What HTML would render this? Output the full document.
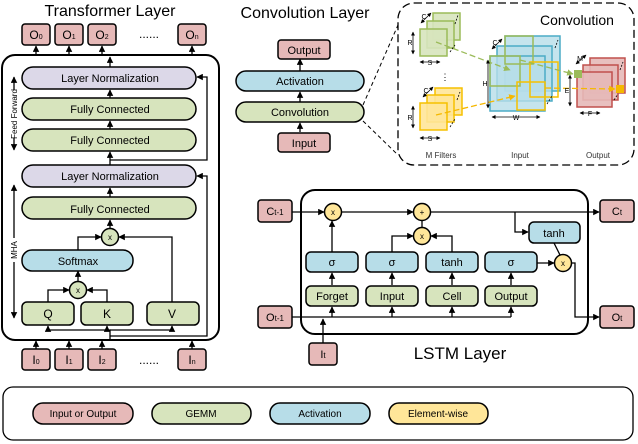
<!DOCTYPE html>
<html><head><meta charset="utf-8"><style>
html,body{margin:0;padding:0;background:#fff}
svg{display:block;font-family:"Liberation Sans",sans-serif}
</style></head><body>
<svg width="638" height="444" viewBox="0 0 638 444" xmlns="http://www.w3.org/2000/svg">
<defs>
<marker id="a" viewBox="0 0 10 10" refX="9" refY="5" markerWidth="5" markerHeight="5" orient="auto-start-reverse"><path d="M0,0L10,5L0,10z" fill="#000"/></marker>
<marker id="g" viewBox="0 0 10 10" refX="9" refY="5" markerWidth="5" markerHeight="5" orient="auto"><path d="M0,0L10,5L0,10z" fill="#9bbb59"/></marker>
<marker id="y" viewBox="0 0 10 10" refX="9" refY="5" markerWidth="5" markerHeight="5" orient="auto"><path d="M0,0L10,5L0,10z" fill="#f5b800"/></marker>
</defs>
<g font-size="11" text-anchor="middle" stroke-width="1.5">
<!-- Transformer -->
<text x="110" y="16" font-size="16" stroke="none">Transformer Layer</text>
<g fill="#e6b9b8" stroke="#000">
<rect x="22" y="24" width="28" height="21" rx="3"/><rect x="55" y="24" width="28" height="21" rx="3"/><rect x="88" y="24" width="28" height="21" rx="3"/><rect x="178" y="24" width="28" height="21" rx="3"/>
<rect x="22" y="349" width="28" height="21" rx="3"/><rect x="55" y="349" width="28" height="21" rx="3"/><rect x="88" y="349" width="28" height="21" rx="3"/><rect x="178" y="349" width="28" height="21" rx="3"/>
</g>
<g stroke="none" font-size="12"><text x="36" y="39">O<tspan font-size="7">0</tspan></text><text x="69" y="39">O<tspan font-size="7">1</tspan></text><text x="102" y="39">O<tspan font-size="7">2</tspan></text><text x="149" y="38">......</text><text x="192" y="39">O<tspan font-size="7">n</tspan></text>
<text x="36" y="364">I<tspan font-size="7">0</tspan></text><text x="69" y="364">I<tspan font-size="7">1</tspan></text><text x="102" y="364">I<tspan font-size="7">2</tspan></text><text x="149" y="364">......</text><text x="192" y="364">I<tspan font-size="7">n</tspan></text></g>
<rect x="2" y="55" width="217" height="285" rx="13" fill="none" stroke="#000" stroke-width="2"/>
<g stroke="#000" fill="none" marker-end="url(#a)" stroke-width="1.3">
<line x1="36" y1="55" x2="36" y2="46"/><line x1="69" y1="55" x2="69" y2="46"/><line x1="102" y1="55" x2="102" y2="46"/><line x1="192" y1="55" x2="192" y2="46"/>
<line x1="110" y1="67" x2="110" y2="57"/>
<line x1="36" y1="349" x2="36" y2="341"/><line x1="69" y1="349" x2="69" y2="341"/><line x1="102" y1="349" x2="102" y2="341"/><line x1="192" y1="349" x2="192" y2="341"/>
<line x1="110" y1="98" x2="110" y2="90"/><line x1="110" y1="129" x2="110" y2="121"/><line x1="110" y1="165" x2="110" y2="152"/><line x1="110" y1="197" x2="110" y2="188"/><line x1="110" y1="229" x2="110" y2="220"/>
<polyline points="110,160 207,160 207,77 197,77"/>
<polyline points="110,336 207,336 207,176 197,176"/>
<polyline points="78,250 78,237 101,237"/>
<polyline points="172,302 172,237 119,237"/>
<line x1="78" y1="282" x2="78" y2="271"/>
<polyline points="48,302 48,290 69,290"/><polyline points="107,302 107,290 87,290"/>
<polyline points="110,340 110,330 48,330 48,326"/><polyline points="110,330 172,330 172,326"/>
<line x1="107" y1="330" x2="107" y2="326"/>
<line x1="14" y1="90" x2="14" y2="77"/><line x1="14" y1="138" x2="14" y2="150"/>
<line x1="14" y1="238" x2="14" y2="185"/><line x1="14" y1="262" x2="14" y2="318"/>
</g>
<text transform="translate(17,114) rotate(-90)" font-size="8" stroke="none">Feed Forward</text>
<text transform="translate(17,250) rotate(-90)" font-size="8" stroke="none">MHA</text>
<g stroke="#000">
<rect x="22" y="67" width="174" height="22" rx="11" fill="#dcd8e8"/><rect x="22" y="98" width="174" height="22" rx="11" fill="#d7e4bd"/><rect x="22" y="129" width="174" height="22" rx="11" fill="#d7e4bd"/>
<rect x="22" y="165" width="174" height="22" rx="11" fill="#dcd8e8"/><rect x="22" y="197" width="174" height="22" rx="11" fill="#d7e4bd"/>
<rect x="22" y="250" width="111" height="21" rx="10" fill="#b7dde8"/>
<rect x="22" y="302" width="52" height="23" rx="5" fill="#d7e4bd"/><rect x="81" y="302" width="52" height="23" rx="5" fill="#d7e4bd"/><rect x="147" y="302" width="52" height="23" rx="5" fill="#d7e4bd"/>
<circle cx="110" cy="237" r="8.5" fill="#d7e4bd"/><circle cx="78" cy="290" r="8.5" fill="#d7e4bd"/>
</g>
<g stroke="none"><text x="110" y="82">Layer Normalization</text><text x="110" y="113">Fully Connected</text><text x="110" y="144">Fully Connected</text><text x="110" y="180">Layer Normalization</text><text x="110" y="213">Fully Connected</text><text x="78" y="265">Softmax</text>
<text x="48" y="318" font-size="12">Q</text><text x="107" y="318" font-size="12">K</text><text x="172" y="318" font-size="12">V</text><text x="110" y="240" font-size="8">x</text><text x="78" y="293" font-size="8">x</text></g>

<!-- Convolution layer -->
<text x="305" y="18" font-size="16" stroke="none">Convolution Layer</text>
<g stroke="#000" marker-end="url(#a)" stroke-width="1.3"><line x1="300" y1="71" x2="300" y2="59"/><line x1="300" y1="102" x2="300" y2="92"/><line x1="300" y1="132" x2="300" y2="123"/></g>
<g stroke="#000"><rect x="278" y="40" width="52" height="19" rx="3" fill="#e6b9b8"/><rect x="236" y="71" width="128" height="20" rx="10" fill="#b7dde8"/><rect x="236" y="102" width="128" height="20" rx="10" fill="#d7e4bd"/><rect x="278" y="133" width="52" height="19" rx="3" fill="#e6b9b8"/></g>
<g stroke="none"><text x="304" y="54">Output</text><text x="300" y="85">Activation</text><text x="300" y="116">Convolution</text><text x="304" y="147">Input</text></g>
<g stroke="#000" stroke-dasharray="4,3" fill="none" stroke-width="1"><line x1="363" y1="105" x2="398" y2="25"/><line x1="363" y1="121" x2="398" y2="155"/>
<rect x="398" y="3" width="236" height="162" rx="16" stroke-dasharray="8,4" stroke-width="1.3"/></g>
<text x="577" y="25" font-size="14" stroke="none">Convolution</text>
<g stroke="#9bbb59" fill="#d7e4bd" fill-opacity="0.9"><rect x="433" y="13" width="27" height="27"/><rect x="427" y="21" width="27" height="27"/><rect x="420" y="29" width="27" height="27"/></g>
<g stroke="#f5c000" fill="#ffe699" fill-opacity="0.9"><rect x="435" y="88" width="27" height="27"/><rect x="427" y="95" width="27" height="27"/><rect x="420" y="103" width="27" height="27"/></g>
<g stroke="#4bacc6" fill="#b7dde8" fill-opacity="0.8"><rect x="505" y="36" width="55" height="55"/><rect x="497" y="46" width="55" height="55"/><rect x="490" y="56" width="55" height="55"/></g>
<g fill="none" stroke="#9bbb59" stroke-width="1.5"><rect x="505" y="36" width="28" height="28"/><rect x="490" y="56" width="30" height="30"/></g>
<g fill="none" stroke="#f5c000" stroke-width="1.5"><rect x="530" y="62" width="28" height="35"/><rect x="517" y="82" width="28" height="28"/></g>
<g stroke="#c0504d" fill="#e6b9b8" fill-opacity="0.9"><rect x="590" y="58" width="35" height="35"/><rect x="583" y="65" width="35" height="35"/><rect x="577" y="72" width="35" height="35"/></g>
<rect x="574" y="70" width="8" height="8" fill="#9bbb59" stroke="none"/><rect x="616" y="85" width="8" height="8" fill="#f5b800" stroke="none"/>
<g stroke="#9bbb59" stroke-dasharray="6,3" stroke-width="1.3"><line x1="436" y1="42" x2="510" y2="70" marker-end="url(#g)"/><line x1="520" y1="60" x2="573" y2="74" marker-end="url(#g)"/></g>
<g stroke="#f5b800" stroke-dasharray="6,3" stroke-width="1.3"><line x1="436" y1="115" x2="515" y2="96" marker-end="url(#y)"/><line x1="545" y1="88" x2="615" y2="89" marker-end="url(#y)"/></g>
<g stroke="#000" stroke-width="0.8" marker-end="url(#a)" marker-start="url(#a)"><line x1="420" y1="62" x2="440" y2="62"/><line x1="413" y1="32" x2="413" y2="54"/><line x1="420" y1="138" x2="440" y2="138"/><line x1="413" y1="106" x2="413" y2="128"/><line x1="488" y1="60" x2="488" y2="108"/><line x1="492" y1="117" x2="540" y2="117"/><line x1="570" y1="75" x2="570" y2="106"/><line x1="580" y1="113" x2="600" y2="113"/>
<line x1="421" y1="23" x2="431" y2="13"/><line x1="423" y1="97" x2="433" y2="87"/><line x1="492" y1="49" x2="502" y2="39"/><line x1="576" y1="64" x2="586" y2="55"/></g>
<g stroke="#000" stroke-width="0.8" stroke-dasharray="2,1.5"><line x1="455" y1="24" x2="458" y2="15"/><line x1="450" y1="52" x2="455" y2="45"/><line x1="457" y1="100" x2="460" y2="92"/><line x1="450" y1="127" x2="455" y2="119"/><line x1="555" y1="48" x2="558" y2="40"/><line x1="547" y1="104" x2="552" y2="96"/><line x1="620" y1="70" x2="623" y2="62"/><line x1="614" y1="100" x2="618" y2="94"/></g>
<g stroke="none" font-size="7"><text x="430" y="65">S</text><text x="410" y="45">R</text><text x="430" y="141">S</text><text x="410" y="120">R</text><text x="485" y="86">H</text><text x="516" y="120">W</text><text x="567" y="93">E</text><text x="590" y="116">F</text><text x="424" y="19">C</text><text x="426" y="93">C</text><text x="495" y="45">C</text><text x="580" y="61">M</text><text x="445" y="80" font-size="9">⋮</text></g>
<g stroke="none" font-size="8" fill="#333"><text x="441" y="158">M Filters</text><text x="520" y="158">Input</text><text x="598" y="158">Output</text></g>

<!-- LSTM -->
<rect x="301" y="190" width="287" height="144" rx="14" fill="none" stroke="#000" stroke-width="2"/>
<g stroke="#000" fill="none" stroke-width="1.3" marker-end="url(#a)">
<line x1="292" y1="212" x2="324" y2="212"/><line x1="342" y1="212" x2="413" y2="212"/><line x1="431" y1="212" x2="599" y2="212"/>
<polyline points="515,212 515,232 528,232"/>
<line x1="332" y1="252" x2="332" y2="221"/>
<polyline points="392,252 392,236 413,236"/><polyline points="452,252 452,236 431,236"/>
<line x1="537" y1="263" x2="554" y2="263"/>
<polyline points="572,263 575,263 575,317 599,317"/>
<line x1="292" y1="317" x2="511" y2="317" marker-end="none"/>
<line x1="332" y1="317" x2="332" y2="307"/><line x1="392" y1="317" x2="392" y2="307"/><line x1="452" y1="317" x2="452" y2="307"/><polyline points="511,317 511,307" />
<line x1="323" y1="343" x2="323" y2="319"/>
<line x1="332" y1="285" x2="332" y2="273"/><line x1="392" y1="285" x2="392" y2="273"/><line x1="452" y1="285" x2="452" y2="273"/><line x1="511" y1="285" x2="511" y2="273"/>
</g>
<line x1="422" y1="220" x2="422" y2="228" stroke="#000" stroke-width="1.3"/><line x1="554" y1="243" x2="560" y2="255" stroke="#000" stroke-width="1.3"/>
<g stroke="#000">
<rect x="258" y="200" width="34" height="22" rx="3" fill="#e6b9b8"/><rect x="258" y="306" width="34" height="22" rx="3" fill="#e6b9b8"/><rect x="309" y="343" width="28" height="22" rx="3" fill="#e6b9b8"/><rect x="600" y="200" width="34" height="22" rx="3" fill="#e6b9b8"/><rect x="600" y="306" width="34" height="22" rx="3" fill="#e6b9b8"/>
<rect x="529" y="222" width="51" height="21" rx="5" fill="#b7dde8"/>
<rect x="306" y="252" width="52" height="20" rx="5" fill="#b7dde8"/><rect x="366" y="252" width="52" height="20" rx="5" fill="#b7dde8"/><rect x="426" y="252" width="52" height="20" rx="5" fill="#b7dde8"/><rect x="485" y="252" width="52" height="20" rx="5" fill="#b7dde8"/>
<rect x="306" y="286" width="52" height="20" rx="5" fill="#d7e4bd"/><rect x="366" y="286" width="52" height="20" rx="5" fill="#d7e4bd"/><rect x="426" y="286" width="52" height="20" rx="5" fill="#d7e4bd"/><rect x="485" y="286" width="52" height="20" rx="5" fill="#d7e4bd"/>
<circle cx="333" cy="212" r="8.5" fill="#ffe699"/><circle cx="422" cy="212" r="8.5" fill="#ffe699"/><circle cx="422" cy="236" r="8.5" fill="#ffe699"/><circle cx="563" cy="263" r="8.5" fill="#ffe699"/>
</g>
<g stroke="none"><text x="275" y="215">C<tspan font-size="8">t-1</tspan></text><text x="275" y="321">O<tspan font-size="8">t-1</tspan></text><text x="323" y="358">I<tspan font-size="8">t</tspan></text><text x="617" y="215">C<tspan font-size="8">t</tspan></text><text x="617" y="321">O<tspan font-size="8">t</tspan></text>
<text x="554" y="237">tanh</text><text x="332" y="266">σ</text><text x="392" y="266">σ</text><text x="452" y="266">tanh</text><text x="511" y="266">σ</text>
<text x="332" y="300">Forget</text><text x="392" y="300">Input</text><text x="452" y="300">Cell</text><text x="511" y="300">Output</text>
<g font-size="8"><text x="333" y="215">x</text><text x="422" y="215">+</text><text x="422" y="239">x</text><text x="563" y="266">x</text></g>
<text x="460" y="359" font-size="17">LSTM Layer</text></g>

<!-- Legend -->
<rect x="3" y="387" width="630" height="53" rx="10" fill="none" stroke="#000" stroke-width="1.3"/>
<g stroke="#000"><rect x="33" y="403" width="100" height="21" rx="10" fill="#e6b9b8"/><rect x="152" y="403" width="99" height="21" rx="10" fill="#d7e4bd"/><rect x="270" y="403" width="100" height="21" rx="10" fill="#b7dde8"/><rect x="389" y="403" width="99" height="21" rx="10" fill="#ffe699"/></g>
<g stroke="none" font-size="10"><text x="83" y="417">Input or Output</text><text x="201" y="417">GEMM</text><text x="320" y="417">Activation</text><text x="438" y="417">Element-wise</text></g>
</g>
</svg>
</body></html>
